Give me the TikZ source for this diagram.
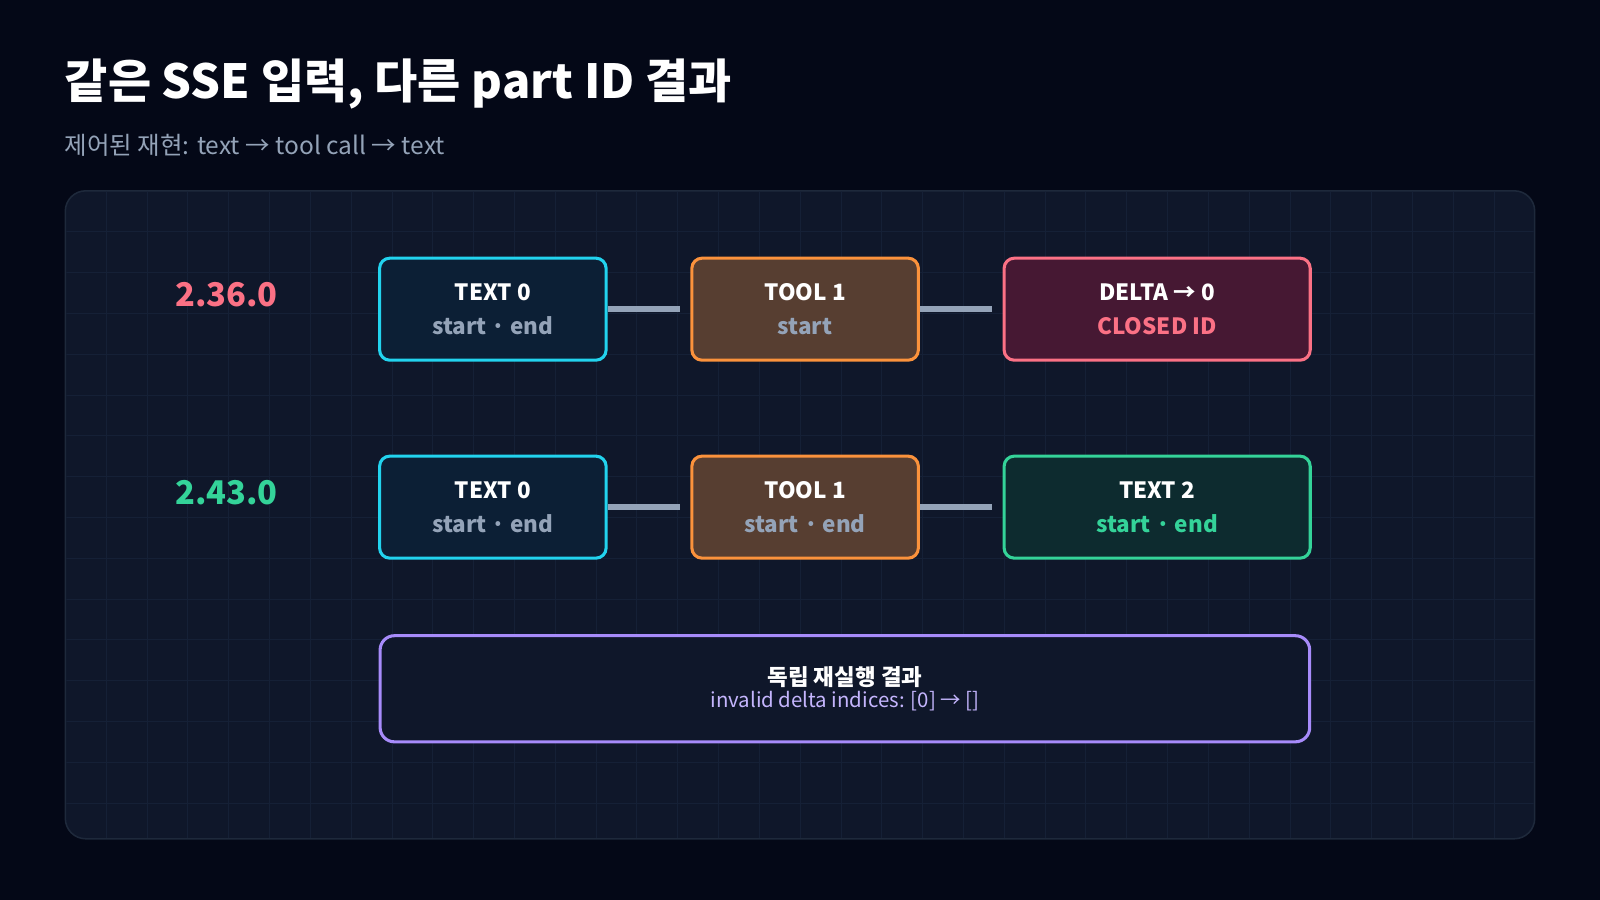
\documentclass[tikz,border=0pt]{standalone}
\usepackage{fontspec}
\setmainfont{Noto Sans CJK KR}
\usetikzlibrary{positioning}
\definecolor{bgcol}{HTML}{040817}
\definecolor{panelcol}{HTML}{0F172A}
\definecolor{panelline}{HTML}{1E293B}
\definecolor{gridcol}{HTML}{152036}
\definecolor{subgray}{HTML}{94A3B8}
\definecolor{cyanline}{HTML}{22D3EE}
\definecolor{cyanfill}{HTML}{0C1F35}
\definecolor{orangeline}{HTML}{FB923C}
\definecolor{orangefill}{HTML}{573E31}
\definecolor{pinkline}{HTML}{FB7185}
\definecolor{pinkfill}{HTML}{461833}
\definecolor{greenline}{HTML}{34D399}
\definecolor{greenfill}{HTML}{0D2B2F}
\definecolor{purpleline}{HTML}{A78BFA}
\definecolor{purpletext}{HTML}{C4B5FD}
\tikzset{
    x=1pt, y=-1pt,
    stage/.style={draw, line width=3pt, rounded corners=10pt, minimum width=222pt,
        minimum height=100pt, align=center, font=\bfseries\fontsize{22}{34}\selectfont, text=white},
    textstage/.style={stage, draw=cyanline, fill=cyanfill},
    toolstage/.style={stage, draw=orangeline, fill=orangefill},
    link/.style={draw=subgray, line width=6pt},
    version/.style={font=\bfseries\fontsize{32}{36}\selectfont},
}
\begin{document}
\begin{tikzpicture}
\fill[bgcol] (0,0) rectangle (1568,882);
\useasboundingbox (0,0) rectangle (1568,882);
% title
\node[anchor=west, text=white, font=\bfseries\fontsize{46}{50}\selectfont] (title) at (60,82) {같은 SSE 입력, 다른 part ID 결과};
\node[anchor=west, text=subgray, font=\fontsize{24}{28}\selectfont] (subtitle) at (60,142) {제어된 재현: text → tool call → text};
% panel
\draw[panelline, fill=panelcol, line width=1.5pt, rounded corners=20pt] (64,187) rectangle (1504,822);
\begin{scope}
\clip[rounded corners=20pt] (65,188) rectangle (1503,821);
\foreach \gx in {104,144,...,1504} \draw[gridcol, line width=0.6pt] (\gx,188) -- (\gx,821);
\foreach \gy in {227,267,...,821} \draw[gridcol, line width=0.6pt] (65,\gy) -- (1503,\gy);
\end{scope}
% versions
\node[version, text=pinkline] (v1) at (222,289) {2.36.0};
\node[version, text=greenline] (v2) at (222,483) {2.43.0};
% row 1
\node[textstage] (a1) at (483,303) {TEXT 0\\\textcolor{subgray}{start · end}};
\node[toolstage] (b1) at (789,303) {TOOL 1\\\textcolor{subgray}{start}};
\node[stage, draw=pinkline, fill=pinkfill, minimum width=300pt] (c1) at (1134,303) {DELTA → 0\\\textcolor{pinkline}{CLOSED ID}};
% row 2
\node[textstage] (a2) at (483,497) {TEXT 0\\\textcolor{subgray}{start · end}};
\node[toolstage] (b2) at (789,497) {TOOL 1\\\textcolor{subgray}{start · end}};
\node[stage, draw=greenline, fill=greenfill, minimum width=300pt] (c2) at (1134,497) {TEXT 2\\\textcolor{greenline}{start · end}};
% links
\coordinate[left=10pt of b1.west] (b1in);
\coordinate[left=10pt of c1.west] (c1in);
\coordinate[left=10pt of b2.west] (b2in);
\coordinate[left=10pt of c2.west] (c2in);
\draw[link] (a1.east) -- (b1in);
\draw[link] (b1.east) -- (c1in);
\draw[link] (a2.east) -- (b2in);
\draw[link] (b2.east) -- (c2in);
% result
\node[draw=purpleline, fill=panelcol, line width=3pt, rounded corners=14pt, minimum width=911pt,
    minimum height=104pt, align=center] (res) at (828,675)
    {\textcolor{white}{\bfseries\fontsize{22}{30}\selectfont 독립 재실행 결과}\\[2pt]
     \textcolor{purpletext}{\fontsize{20}{26}\selectfont invalid delta indices: [0] → []}};
\end{tikzpicture}
\end{document}
